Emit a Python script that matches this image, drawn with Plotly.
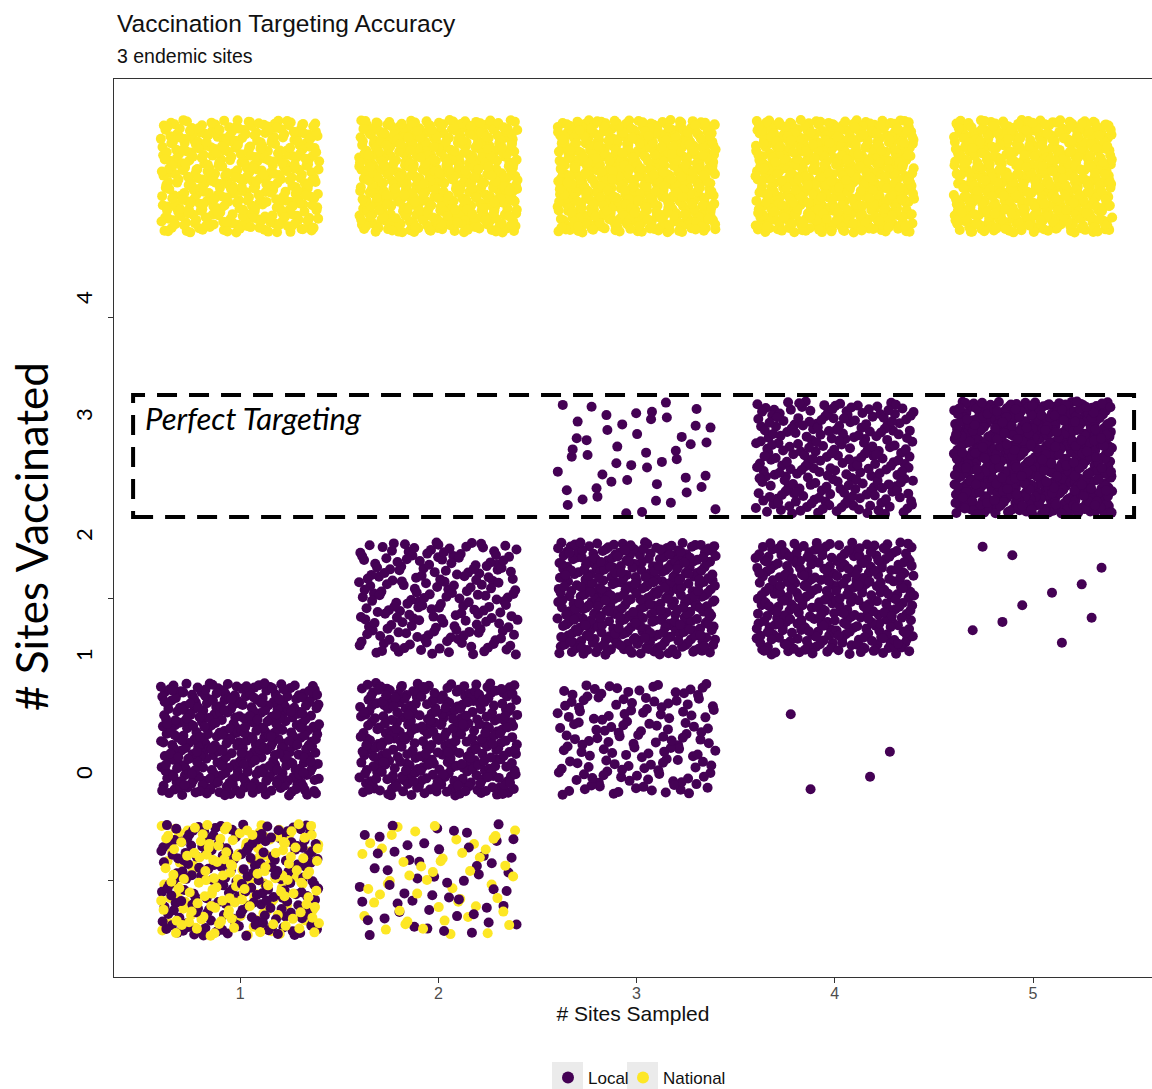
import plotly.graph_objects as go

# ---------------- data ----------------
sites_sampled = [1, 2, 3, 4, 5]
sites_vaccinated = [0, 1, 2, 3, 4, 5]
# rows: # sites sampled 1..5 ; columns: # sites vaccinated 0..5 (number of simulation runs)
local_counts = [
    [200, 400, 0, 0, 0, 0],
    [55, 345, 200, 0, 0, 0],
    [0, 150, 400, 50, 0, 0],
    [0, 4, 346, 250, 0, 0],
    [0, 0, 10, 590, 0, 0],
]
national_counts = [
    [180, 0, 0, 0, 0, 420],
    [50, 0, 0, 0, 0, 550],
    [0, 0, 0, 0, 0, 600],
    [0, 0, 0, 0, 0, 600],
    [0, 0, 0, 0, 0, 600],
]
series_names = ["Local", "National"]
series_colors = ["#440154", "#FDE725"]
x_tick_labels = ["1", "2", "3", "4", "5"]
y_overlay_labels = ["0", "1", "2", "3", "4"]

# ---------------- geometry ----------------
W, H = 1152, 1089
L, R, T, B = 114, 0, 79, 112
PW, PH = W - L - R, H - T - B
X_RANGE = [0.364, 5.600]
Y_RANGE = [-0.689, 5.691]
JIT = 0.4


def px_x(p):
    return (p - L) / PW


def px_y(p):
    return (H - B - p) / PH


def data_y_from_px(p):
    return Y_RANGE[0] + (H - B - p) / PH * (Y_RANGE[1] - Y_RANGE[0])


def halton(i, b):
    f, r = 1.0, 0.0
    while i > 0:
        f /= b
        r += f * (i % b)
        i //= b
    return r


# deterministic jitter layout (low-discrepancy), as geom_jitter(width=.4, height=.4)
def jittered(counts, start, bx, by):
    pts = []
    idx = start
    for xi, xs in enumerate(sites_sampled):
        for yi, ys in enumerate(sites_vaccinated):
            n = counts[xi][yi]
            for k in range(n):
                idx += 1
                u = halton(idx, bx)
                v = halton(idx, by)
                pts.append((xs + (2 * u - 1) * JIT, ys + (2 * v - 1) * JIT, k))
    return pts


series_pts = [jittered(local_counts, 17, 2, 3), jittered(national_counts, 311, 3, 5)]
legend_ids = ["legend", "legend2"]

fig = go.Figure()
NCHUNK = 4
for c in range(NCHUNK):
    for s, pts in enumerate(series_pts):
        sel = [p for p in pts if p[2] % NCHUNK == c]
        fig.add_trace(go.Scatter(
            x=[p[0] for p in sel], y=[p[1] for p in sel],
            mode="markers", name=series_names[s], legendgroup=series_names[s],
            legend=legend_ids[s], showlegend=(c == 0),
            marker=dict(color=series_colors[s], size=10, line=dict(width=0)),
            hoverinfo="skip",
        ))

annotations = [
    dict(text="Vaccination Targeting Accuracy", xref="paper", yref="paper",
         x=px_x(115), y=px_y(23), xanchor="left", yanchor="middle", showarrow=False,
         font=dict(family="Liberation Sans, Arial", size=24.5, color="#111111")),
    dict(text="3 endemic sites", xref="paper", yref="paper",
         x=px_x(115), y=px_y(56), xanchor="left", yanchor="middle", showarrow=False,
         font=dict(family="Liberation Sans, Arial", size=19.5, color="#111111")),
    dict(text="# Sites Vaccinated", xref="paper", yref="paper", textangle=-90,
         x=px_x(31), y=px_y(537), xanchor="center", yanchor="middle", showarrow=False,
         font=dict(family="Lato", size=44, color="#000000")),
    dict(text="<i>Perfect Targeting</i>", xref="paper", yref="paper",
         x=px_x(143), y=px_y(418), xanchor="left", yanchor="middle", showarrow=False,
         font=dict(family="Lato", size=31, color="#000000")),
]
overlay_px = [773, 655, 535, 415, 298]
for lab, p in zip(y_overlay_labels, overlay_px):
    annotations.append(dict(text=lab, xref="paper", yref="y", textangle=-90,
                            x=px_x(83), y=data_y_from_px(p), xanchor="center", yanchor="middle",
                            showarrow=False, font=dict(family="Lato", size=22, color="#000000")))

shapes = [
    dict(type="rect", xref="x", yref="y", x0=0.4603, x1=5.5095,
         y0=data_y_from_px(517), y1=data_y_from_px(395),
         line=dict(color="black", width=4, dash="20px,12px"), fillcolor="rgba(0,0,0,0)"),
    dict(type="rect", xref="paper", yref="paper", x0=px_x(552), x1=px_x(583),
         y0=px_y(1095), y1=px_y(1062), line=dict(width=0), fillcolor="#EBEBEB", layer="below"),
    dict(type="rect", xref="paper", yref="paper", x0=px_x(627), x1=px_x(658),
         y0=px_y(1095), y1=px_y(1062), line=dict(width=0), fillcolor="#EBEBEB", layer="below"),
]

legend_font = dict(family="Liberation Sans, Arial", size=17, color="#111111")
fig.update_layout(
    width=W, height=H, margin=dict(l=L, r=R, t=T, b=B, pad=0, autoexpand=False),
    paper_bgcolor="white", plot_bgcolor="white",
    showlegend=True,
    legend=dict(orientation="h", x=px_x(548), y=px_y(1078), xanchor="left", yanchor="middle",
                font=legend_font, bgcolor="rgba(0,0,0,0)", itemsizing="constant"),
    legend2=dict(orientation="h", x=px_x(623), y=px_y(1078), xanchor="left", yanchor="middle",
                 font=legend_font, bgcolor="rgba(0,0,0,0)", itemsizing="constant"),
    annotations=annotations, shapes=shapes,
    xaxis=dict(range=X_RANGE, tickmode="array", tickvals=sites_sampled, ticktext=x_tick_labels,
               ticks="outside", ticklen=5, tickwidth=1.2, tickcolor="#333333",
               showline=True, linecolor="#333333", linewidth=1.4, mirror=True,
               showgrid=False, zeroline=False, ticklabelstandoff=-3,
               tickfont=dict(family="Liberation Sans, Arial", size=16, color="#4D4D4D"),
               title=dict(text="# Sites Sampled", standoff=4,
                          font=dict(family="Liberation Sans, Arial", size=21, color="#111111"))),
    yaxis=dict(range=Y_RANGE, tickmode="array", tickvals=[0, 2, 4], showticklabels=False,
               ticks="outside", ticklen=5, tickwidth=1.2, tickcolor="#333333",
               showline=True, linecolor="#333333", linewidth=1.4,
               showgrid=False, zeroline=False),
)

fig.write_html("out.html", config={"displayModeBar": False},
               post_script="document.body.style.margin='0px';document.body.style.overflow='hidden';")
